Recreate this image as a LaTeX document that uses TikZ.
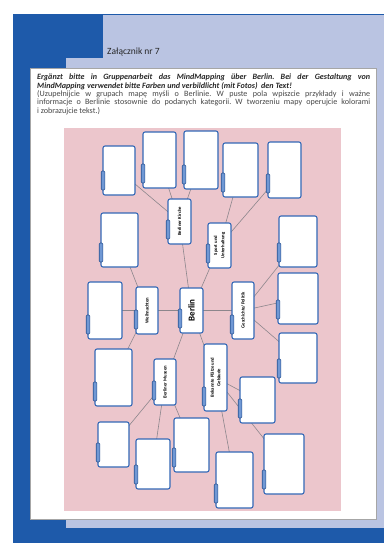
\documentclass[tikz,border=0pt]{standalone}
\usepackage{fontspec}
\setmainfont{Carlito}
\usepackage{graphicx}
\frenchspacing
\definecolor{dblue}{RGB}{30,90,170}
\definecolor{lav}{RGB}{186,196,226}
\definecolor{pinkbg}{RGB}{236,198,204}
\definecolor{boxblue}{RGB}{52,104,182}
\definecolor{tabblue}{RGB}{112,152,212}
\definecolor{linegray}{RGB}{140,134,140}
\pgfdeclarelayer{bg}
\pgfdeclarelayer{lines}
\pgfsetlayers{bg,lines,main}
\tikzset{
  mmbox/.style={draw=boxblue, line width=1.1pt, fill=white, rounded corners=2pt, inner sep=0pt, outer sep=0pt},
  mmtab/.style={draw=boxblue!80!black, fill=tabblue, line width=0.6pt, rounded corners=1pt},
  conn/.style={draw=linegray, line width=0.6pt},
}
\newcommand\mmlab{\fontsize{4.7}{5.1}\selectfont\bfseries}
\newcommand\mmnode[6]{%
  \node[mmbox, minimum width={(#4-#2)*1pt}, minimum height={(#5-#3)*1pt}] (#1) at ({(#2+#4)/2},{(#3+#5)/2}) {#6};
  \draw[mmtab] ([xshift=-1.8pt,yshift=5pt]#1.south west) rectangle ([xshift=1.8pt,yshift=24pt]#1.south west);
}
\begin{document}
\begin{tikzpicture}[x=1pt,y=-1pt]
\useasboundingbox (0,0) rectangle (384,543);
\begin{pgfonlayer}{bg}
\fill[white] (0,0) rectangle (384,543);
\fill[dblue] (13,14) rectangle (384,543);
\fill[lav] (103,15) rectangle (384,58);
\fill[lav] (66,58) rectangle (384,528);
\filldraw[fill=white, draw=gray!70, line width=0.5pt] (30,68) rectangle (376,519);
\fill[pinkbg] (64,128) rectangle (341,511);
\end{pgfonlayer}

\node[anchor=base west, inner sep=0pt, font=\fontsize{9.5}{10}\selectfont, text=black!85] (title) at (107,55) {Załącznik nr 7};

\node[anchor=north west, inner sep=0pt, align=left, font=\fontsize{8.1}{8.3}\selectfont] (instr) at (37,74) {%
\makebox[333pt][s]{\color{black!85}\bfseries\itshape Ergänzt bitte in Gruppenarbeit das MindMapping über Berlin. Bei der Gestaltung von}\\
{\color{black!85}\bfseries\itshape MindMapping verwendet bitte Farben und verbildlicht (mit Fotos)\ \ den Text!}\\
\makebox[333pt][s]{\color{black!72}(Uzupełnijcie w grupach mapę myśli o Berlinie. W puste pola wpiszcie przykłady i ważne}\\
\makebox[333pt][s]{\color{black!72}informacje o Berlinie stosownie do podanych kategorii. W tworzeniu mapy operujcie kolorami}\\
{\color{black!72}i zobrazujcie tekst.)}};

\mmnode{b1}{103}{146}{135}{195}{}
\mmnode{b2}{143}{132}{176}{188}{}
\mmnode{b3}{184}{131}{218}{189}{}
\mmnode{b4}{223}{143}{258}{197}{}
\mmnode{b5}{268}{142}{301}{198}{}
\mmnode{kir}{168}{199}{191}{244}{\rotatebox{90}{\mmlab Berliner Kirche}}
\mmnode{spo}{208}{223}{231}{268}{\rotatebox{90}{\mmlab\shortstack{Sport und\\Unterhaltung}}}
\mmnode{b6}{101}{213}{138}{267}{}
\mmnode{b7}{279}{216}{317}{267}{}
\mmnode{b8}{278}{273}{318}{324}{}
\mmnode{b9}{88}{282}{122}{339}{}
\mmnode{wei}{136}{287}{158}{334}{\rotatebox{90}{\mmlab Weihnachten}}
\mmnode{ber}{180}{288}{203}{333}{\rotatebox{90}{\fontsize{9}{10}\selectfont\bfseries Berlin}}
\mmnode{ges}{232}{282}{254}{339}{\rotatebox{90}{\mmlab Geschichte/Politik}}
\mmnode{b10}{95}{349}{132}{406}{}
\mmnode{mus}{154}{359}{176}{405}{\rotatebox{90}{\mmlab Berliner Museen}}
\mmnode{bek}{204}{344}{227}{411}{\rotatebox{90}{\mmlab\shortstack{Bekannte Plätze und\\Gebäude}}}
\mmnode{b11}{279}{333}{317}{383}{}
\mmnode{b12}{240}{377}{275}{423}{}
\mmnode{b13}{98}{422}{129}{467}{}
\mmnode{b14}{136}{439}{170}{489}{}
\mmnode{b15}{174}{418}{209}{472}{}
\mmnode{b16}{216}{452}{253}{508}{}
\mmnode{b17}{264}{434}{304}{494}{}

\begin{pgfonlayer}{lines}
\foreach \a/\b in {b1/kir,b2/kir,b3/kir,b4/spo,b5/spo,kir/ber,spo/ber,b6/wei,b7/ges,b9/wei,wei/ber,ber/ges,ges/b8,ges/b11,wei/b10,ber/mus,ber/bek,mus/b13,mus/b14,mus/b15,bek/b12,bek/b17,bek/b16}
  \draw[conn] (\a.center) -- (\b.center);
\end{pgfonlayer}
\end{tikzpicture}
\end{document}
